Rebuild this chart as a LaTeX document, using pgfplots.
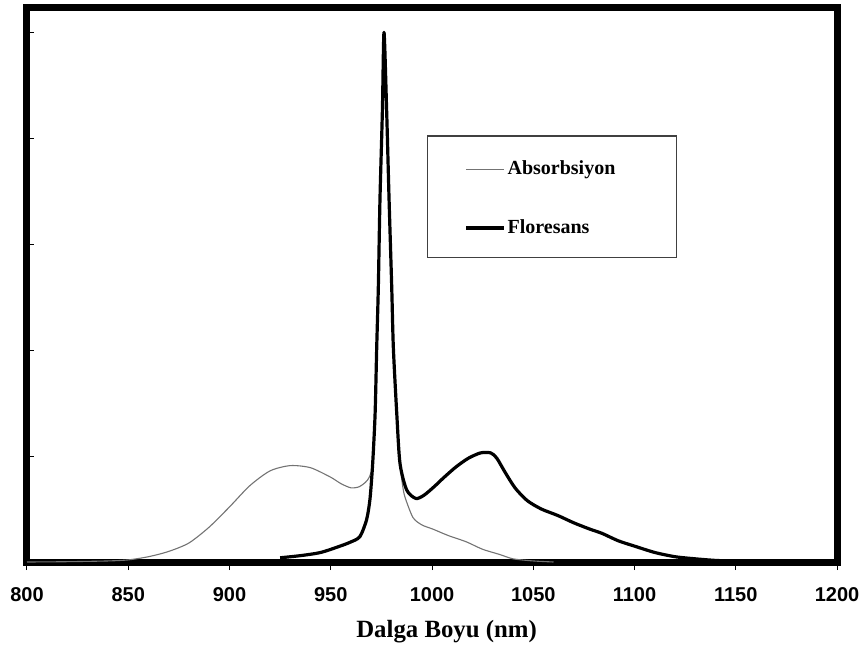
\documentclass[border=0pt]{standalone}
\usepackage{fontspec}
\setmainfont{Liberation Serif}
\newfontfamily\arial{Liberation Sans}
\usepackage{pgfplots}
\pgfplotsset{compat=1.18}
\definecolor{absgray}{RGB}{115,115,115}

\begin{document}
\begin{tikzpicture}
\useasboundingbox (-13.5pt,-43pt) rectangle (419pt,281pt);
\begin{axis}[
  at={(0,0)}, anchor=south west,
  scale only axis,
  width=405pt, height=277pt,
  xmin=800, xmax=1200,
  ymin=0, ymax=5.23,
  xtick={800,850,...,1200},
  ytick={0,1,2,3,4,5},
  yticklabels={},
  xtick pos=bottom,
  ytick pos=left,
  tick align=outside,
  major tick length=4pt,
  xtick style={line width=0.5pt, black},
  ytick style={line width=0.5pt, black, xshift=3.5pt},
  axis line style={line width=3.5pt, line cap=rect},
  /pgf/number format/1000 sep={},
  /pgf/number format/assume math mode=true,
  xticklabel style={font=\arial\bfseries\fontsize{10}{12}\selectfont, yshift=-5pt},
  xlabel={Dalga Boyu (nm)},
  xlabel style={font=\bfseries\fontsize{12.4}{14}\selectfont, at={(axis description cs:0.518,0)}, anchor=center, yshift=-35pt},
  legend cell align=left,
  legend style={at={(rel axis cs:0.5395,0.656)}, anchor=west, draw=none, fill=none,
    inner sep=0pt, row sep=18.5pt,
    nodes={inner sep=1pt, text height=7pt, text depth=2pt, font=\bfseries\fontsize{10}{12}\selectfont}},
  legend image code/.code={\draw[#1] (0pt,0pt) -- (19pt,0pt);},
]
% legend frame
\draw[line width=0.6pt, black!75] (rel axis cs:0.494,0.549) rectangle (rel axis cs:0.802,0.769);

% Absorbsiyon
\addplot[color=absgray, line width=0.55pt, line join=round, smooth, tension=0.45] coordinates {
(800,0.0) (820,0.003) (840,0.01) (850,0.02) (860,0.05) (870,0.10)
(880,0.18) (890,0.33) (900,0.52) (910,0.72) (920,0.86) (930,0.91)
(940,0.89) (950,0.80) (955,0.74) (960,0.70) (964,0.71) (967,0.75)
(969,0.80) (970.7,0.93) (971.9,1.4) (972.7,2.03) (973.5,2.6) (974.3,3.42)
(975.5,4.26) (976.3,5.0) (977.6,4.26) (978.8,3.42) (980.1,2.6) (980.9,2.03)
(982.6,1.4) (984.2,0.93) (985.5,0.72) (986.7,0.61) (990.6,0.42) (995,0.35)
(1000.5,0.31) (1008,0.25) (1017,0.19) (1025,0.12) (1033.6,0.07) (1040,0.03)
(1050,0.01) (1060,0.0)
};
\addlegendentry{Absorbsiyon}

% Floresans
\addplot[color=black, line width=1.6pt, line join=round, smooth, tension=0.45] coordinates {
(925,0.04) (935,0.06) (945,0.09) (954.6,0.15) (960,0.19) (964.4,0.24)
(967.7,0.40) (969.4,0.60) (970.7,0.93) (971.9,1.4) (972.7,2.03) (973.5,2.6)
(974.3,3.42) (975.5,4.26) (976.3,5.0) (977.6,4.26) (978.8,3.42) (980.1,2.6)
(980.9,2.03) (982.6,1.4) (984.2,0.93) (987.5,0.68) (992,0.6) (996,0.63)
(1001,0.71) (1006,0.80) (1012,0.90) (1018,0.98) (1024,1.03) (1029,1.03)
(1032,0.98) (1036,0.85) (1041,0.70) (1047,0.58) (1054,0.50) (1062,0.44)
(1070,0.37) (1078,0.31) (1084,0.27) (1092,0.20) (1100,0.15) (1110,0.09)
(1120,0.05) (1130,0.03) (1140,0.015) (1153,0.005) (1160,0.0)
};
\addlegendentry{Floresans}
\end{axis}
\end{tikzpicture}
\end{document}
